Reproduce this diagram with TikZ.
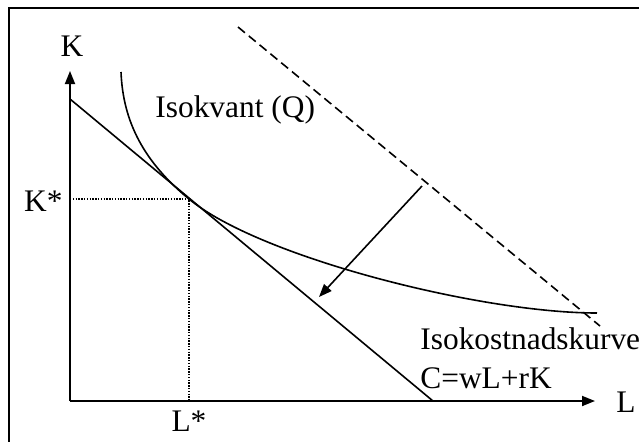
\documentclass[tikz,border=0pt]{standalone}
\usepackage{fontspec}
\setmainfont{Liberation Serif}
\usetikzlibrary{arrows.meta,positioning}

\begin{document}
\begin{tikzpicture}[
    x=0.5pt, y=-0.5pt,
    font=\fontsize{15.7}{18}\selectfont,
    >={Triangle[length=6.5pt,width=5pt]},
    axis/.style={->, line width=0.9pt},
    curve/.style={line width=0.8pt},
    guide/.style={dash pattern=on 0.7pt off 0.7pt, line width=0.7pt},
    shifted/.style={dash pattern=on 4.5pt off 2.5pt, line width=0.8pt},
    lbl/.style={inner sep=0pt}
]
\clip (0,0) rectangle (639,441);
\draw[line width=1pt] (8.5,7.5) rectangle (660,460);

% axes
\coordinate (O) at (70,401);
\coordinate (ytop) at (70,71);
\coordinate (xend) at (595,401);
\draw[axis] (O) -- (ytop);
\draw[axis] (O) -- (xend);
\node[lbl, anchor=base] (K) at (72,56) {K};
\node[lbl, anchor=base] (L) at (626,412) {L};

% optimum
\coordinate (E) at (189,199);
\draw[guide] (O |- E) -- (E) -- (E |- O);
\node[lbl, anchor=base east] (Kstar) at (63,211) {K*};
\node[lbl, anchor=base] (Lstar) at (189,431) {L*};

% isocost line and its shift
\coordinate (b1) at (70,99);
\coordinate (b2) at (433,401);
\draw[curve] (b1) -- (b2);
\coordinate (d1) at (238,27);
\coordinate (d2) at (600,326);
\draw[shifted] (d1) -- (d2);
\coordinate (a1) at (422,186);
\coordinate (a2) at (319,297);
\draw[->, curve] (a1) -- (a2);

% isoquant
\coordinate (q1) at (121,72);
\coordinate (q2) at (597,313);
\draw[curve] (q1) .. controls (123,122) and (144,162) .. (E)
             .. controls (259,257) and (480,313) .. (q2);

\node[lbl, anchor=base west] (isoq) at (155,117) {Isokvant (Q)};
\node[lbl, anchor=base west] (isoc) at (420,349) {Isokostnadskurve};
\node[lbl, anchor=base west] (costeq) at (420,388) {C=wL+rK};
\end{tikzpicture}
\end{document}
